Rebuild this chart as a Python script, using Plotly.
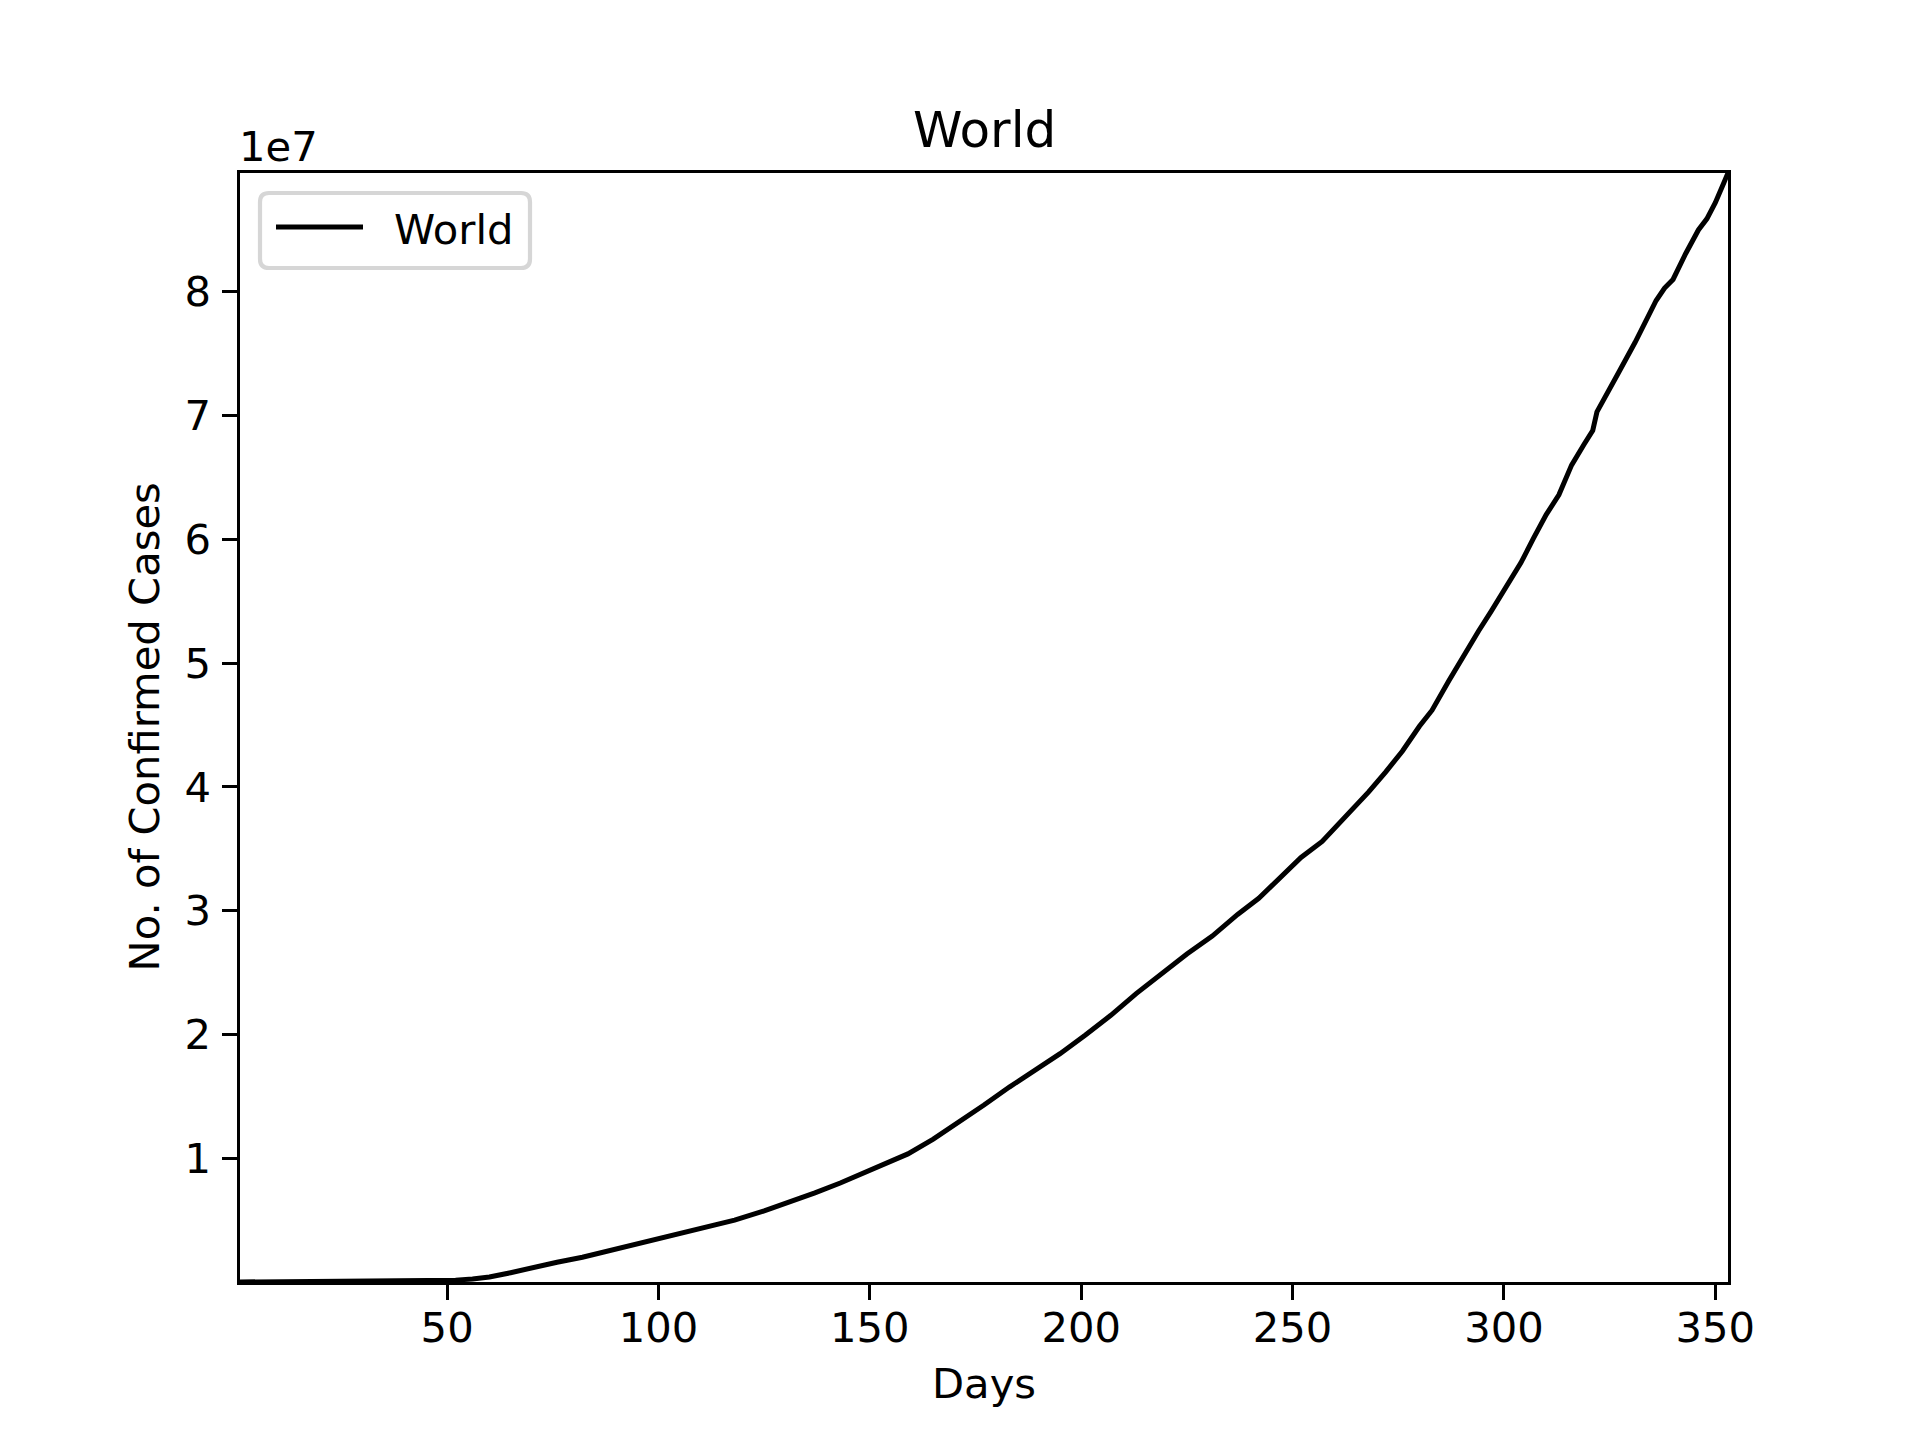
"""World confirmed cases curve, matplotlib-style layout in Plotly."""

import plotly.graph_objects as go

# day number since first record
days = [1, 10, 20, 30, 40, 48, 52, 56, 60, 65, 70, 76, 82, 88, 94, 100, 106, 112, 118, 125,
        131, 137, 143, 149, 154, 159, 165, 171, 177, 183, 189, 195, 201, 207, 213, 219, 225,
        231, 237, 242, 247, 252, 257, 262, 268, 272, 276, 280, 283, 287, 290, 294, 297, 301,
        304, 307, 310, 313, 316, 319, 321, 322, 324, 327, 331, 334, 336, 338, 340, 343, 346,
        348, 350, 352, 353]

# cumulative confirmed cases, millions
cases_m = [0.000555, 0.0098, 0.075, 0.079, 0.088, 0.11, 0.15, 0.25, 0.40, 0.75, 1.15, 1.6,
           2.0, 2.5, 2.95, 3.4, 3.9, 4.45, 5.0, 5.75, 6.45, 7.2, 8.0, 8.85, 9.55, 10.35, 11.55,
           12.9, 14.3, 15.75, 17.1, 18.45, 19.95, 21.55, 23.3, 24.9, 26.5, 27.95, 29.7, 31.0,
           32.6, 34.3, 35.6, 37.4, 39.6, 41.2, 42.9, 44.9, 46.2, 48.6, 50.4, 52.6, 54.2, 56.4,
           58.1, 60.1, 62.0, 63.6, 66.0, 67.7, 68.8, 70.3, 71.6, 73.4, 75.9, 78.0, 79.3, 80.3,
           81.0, 83.1, 85.0, 85.9, 87.2, 88.8, 89.6]

x_ticks = [50, 100, 150, 200, 250, 300, 350]
y_ticks = [1e7, 2e7, 3e7, 4e7, 5e7, 6e7, 7e7, 8e7]
y_tick_labels = ["1", "2", "3", "4", "5", "6", "7", "8"]

series_name = "World"
title = "World"
x_label = "Days"
y_label = "No. of Confirmed Cases"
offset_label = "1e7"

W, H = 1920, 1440
L, R, T, B = 240, 192, 173, 158
PW, PH = W - L - R, H - T - B
FONT = "DejaVu Sans"
FS = 41.7


def px(x, y):
    """pixel position -> paper coords"""
    return (x - L) / PW, (H - B - y) / PH


def main():
    cases = [c * 1e6 for c in cases_m]

    fig = go.Figure()
    fig.add_trace(go.Scatter(x=days, y=cases, mode="lines", name=series_name,
                             line=dict(color="black", width=5), showlegend=False))

    axis_common = dict(showline=True, linecolor="black", linewidth=3.3, mirror=True,
                       ticks="outside", ticklen=14.6, tickwidth=3.3, tickcolor="black",
                       showgrid=False, zeroline=False,
                       tickfont=dict(family=FONT, size=FS, color="black"))
    fig.update_xaxes(range=[min(days), max(days)], tickvals=x_ticks,
                     ticklabelstandoff=-8, **axis_common)
    fig.update_yaxes(range=[min(cases), max(cases)], tickvals=y_ticks,
                     ticktext=y_tick_labels, ticklabelstandoff=3, **axis_common)

    ann = []
    ann.append(dict(text=title, x=0.5, y=1, xref="paper", yref="paper", xanchor="center",
                    yanchor="bottom", yshift=12, showarrow=False,
                    font=dict(family=FONT, size=50, color="black")))
    ann.append(dict(text=offset_label, x=0, y=1, xref="paper", yref="paper", xanchor="left",
                    yanchor="bottom", xshift=-3, yshift=0, showarrow=False,
                    font=dict(family=FONT, size=FS, color="black")))
    ann.append(dict(text=x_label, x=0.5, y=0, xref="paper", yref="paper", xanchor="center",
                    yanchor="middle", yshift=-101, showarrow=False,
                    font=dict(family=FONT, size=FS, color="black")))
    ann.append(dict(text=y_label, x=0, y=0.5, xref="paper", yref="paper", xanchor="center",
                    yanchor="middle", xshift=-96, textangle=-90, showarrow=False,
                    font=dict(family=FONT, size=FS, color="black")))

    # legend drawn by hand so the sample line and rounded frame match
    x0, y1 = px(260, 193)
    x1, y0 = px(530, 268)
    rx, ry = 9 / PW, 9 / PH
    path = (f"M {x0 + rx},{y1} L {x1 - rx},{y1} Q {x1},{y1} {x1},{y1 - ry} "
            f"L {x1},{y0 + ry} Q {x1},{y0} {x1 - rx},{y0} L {x0 + rx},{y0} "
            f"Q {x0},{y0} {x0},{y0 + ry} L {x0},{y1 - ry} Q {x0},{y1} {x0 + rx},{y1} Z")
    shapes = [dict(type="path", path=path, xref="paper", yref="paper",
                   line=dict(color="#d6d6d6", width=4.2), fillcolor="white")]
    lx0, ly = px(276, 227)
    lx1, _ = px(363, 227)
    shapes.append(dict(type="line", x0=lx0, x1=lx1, y0=ly, y1=ly, xref="paper",
                       yref="paper", line=dict(color="black", width=5)))
    tx, ty = px(392, 229)
    ann.append(dict(text=series_name, x=tx, y=ty, xref="paper", yref="paper",
                    xanchor="left", yanchor="middle", showarrow=False,
                    font=dict(family=FONT, size=FS, color="black")))

    fig.update_layout(width=W, height=H, margin=dict(l=L, r=R, t=T, b=B),
                      plot_bgcolor="white", paper_bgcolor="white",
                      font=dict(family=FONT, size=FS, color="black"),
                      annotations=ann, shapes=shapes)
    # page body has an 8px default margin; drop it so the figure sits at 0,0
    fig.write_html("out.html", config={"displayModeBar": False},
                   post_script="document.body.style.margin='0';")


if __name__ == "__main__":
    main()
